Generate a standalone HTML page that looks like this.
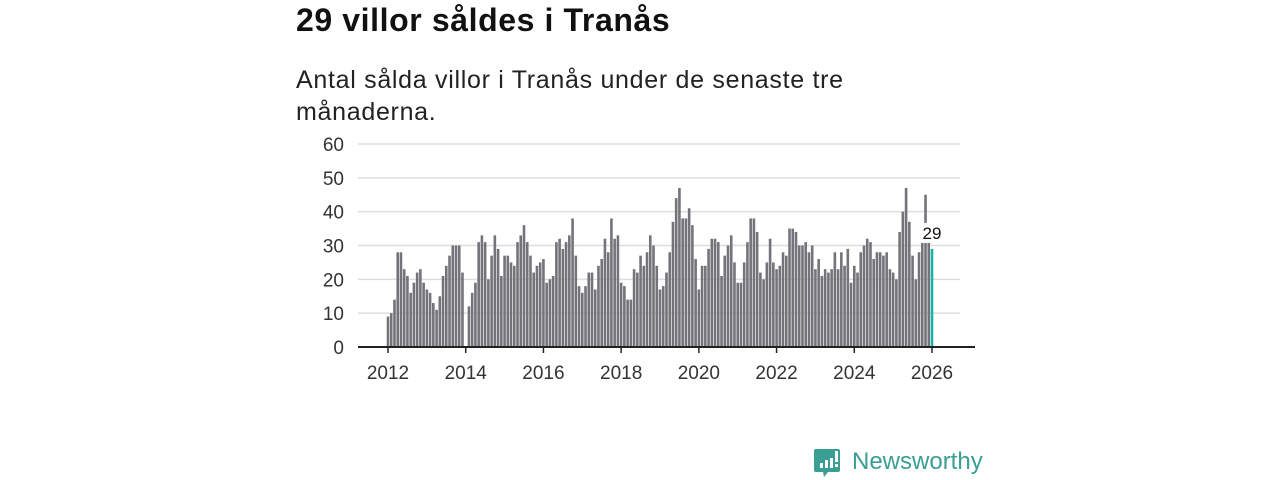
<!DOCTYPE html>
<html><head><meta charset="utf-8">
<style>
body{margin:0;background:#fff;width:1280px;height:480px;overflow:hidden;font-family:"Liberation Sans",sans-serif;position:relative}
#title{position:absolute;left:296px;top:2px;font-size:32px;letter-spacing:0.6px;font-weight:bold;color:#111;margin:0}
#sub{position:absolute;left:296px;top:64px;font-size:25px;letter-spacing:0.7px;line-height:32px;color:#222;width:600px}
svg{position:absolute;left:0;top:0}
</style></head><body>
<h1 id="title">29 villor såldes i Tranås</h1>
<div id="sub">Antal sålda villor i Tranås under de senaste tre månaderna.</div>
<svg id="chart" width="1280" height="480"></svg>
<svg width="1280" height="480">
<path d="M816 449 h22 a2 2 0 0 1 2 2 v19 a2 2 0 0 1 -2 2 h-10 l-4 5 l-1 -5 h-7 a2 2 0 0 1 -2 -2 v-19 a2 2 0 0 1 2 -2z" fill="#3a9e94"/>
<rect x="820" y="463" width="3" height="5" fill="#fff"/><rect x="825" y="460" width="3" height="8" fill="#fff"/><rect x="830" y="458" width="3" height="10" fill="#fff"/><rect x="835" y="451" width="3" height="11" fill="#fff"/><rect x="835" y="464" width="3" height="3" fill="#fff"/>
<text x="852" y="469" font-size="24" font-family="Liberation Sans" fill="#3a9e94">Newsworthy</text>
</svg>
<script>
const years=[2012,2013,2014,2015,2016,2017,2018,2019,2020,2021,2022,2023,2024,2025,2026];
const yTicks=[0,10,20,30,40,50,60];
const xTicks=[2012,2014,2016,2018,2020,2022,2024,2026];
const v2012=[9,10,14,28,28,23,21,16,19,22,23,19];
const v2013=[17,16,13,11,15,21,24,27,30,30,30,22];
const v2014=[0,12,16,19,31,33,31,20,27,33,29,21];
const v2015=[27,27,25,24,31,33,36,31,27,22,24,25];
const v2016=[26,19,20,21,31,32,29,31,33,38,27,18];
const v2017=[16,18,22,22,17,24,26,32,28,38,32,33];
const v2018=[19,18,14,14,23,22,27,24,28,33,30,24];
const v2019=[17,18,22,28,37,44,47,38,38,41,36,26];
const v2020=[17,24,24,29,32,32,31,21,27,30,33,25];
const v2021=[19,19,25,31,38,38,34,22,20,25,32,25];
const v2022=[23,24,28,27,35,35,34,30,30,31,28,30];
const v2023=[23,26,21,23,22,23,28,23,28,24,29,19];
const v2024=[24,22,28,30,32,31,26,28,28,27,28,23];
const v2025=[22,20,34,40,47,37,27,20,28,31,45,31];
const v2026=[29];
const values=[].concat(v2012,v2013,v2014,v2015,v2016,v2017,v2018,v2019,v2020,v2021,v2022,v2023,v2024,v2025,v2026);
const NS="http://www.w3.org/2000/svg";
const svg=document.getElementById('chart');
const x0=388,x1=932,y0=347,y1=144;
const xs=i=>x0+(x1-x0)*i/168;
const xYear=yr=>x0+(x1-x0)*(yr-2012)/14;
const ys=v=>y0-(y0-y1)*v/60;
function mk(t,a){const e=document.createElementNS(NS,t);for(const k in a)e.setAttribute(k,a[k]);svg.appendChild(e);return e;}
yTicks.forEach(t=>{
  if(t>0){const g=mk('line',{x1:358,x2:960,y1:ys(t),y2:ys(t),stroke:'#ddd','stroke-width':1.5});
  
  }
  const l=mk('text',{x:344,y:ys(t)+7,'text-anchor':'end','font-size':19,fill:'#333','font-family':'Liberation Sans'});
  l.textContent=t;
  
  
});
values.forEach((v,i)=>{
  const last=i===values.length-1;
  const r=mk('rect',{x:xs(i)-1.3,y:ys(v),width:2.6,height:y0-ys(v),fill:last?'#1bb3a8':'#747379'});
  
  
});
const ax=mk('line',{x1:358,x2:975,y1:y0,y2:y0,stroke:'#222','stroke-width':2});


xTicks.forEach(yr=>{
  const t=mk('line',{x1:xYear(yr),x2:xYear(yr),y1:y0,y2:y0+6,stroke:'#222','stroke-width':1.5});
  
  
  const l=mk('text',{x:xYear(yr),y:379,'text-anchor':'middle','font-size':19,fill:'#333','font-family':'Liberation Sans'});
  l.textContent=yr;
  
  
});
const lv=values[values.length-1];
const bg=mk('rect',{x:xs(168)-11,y:ys(lv)-26,width:22,height:20,fill:'#fff'});


const vl=mk('text',{x:xs(168),y:ys(lv)-10,'text-anchor':'middle','font-size':17,fill:'#111','font-family':'Liberation Sans'});
vl.textContent=lv;


</script>
</body></html>
